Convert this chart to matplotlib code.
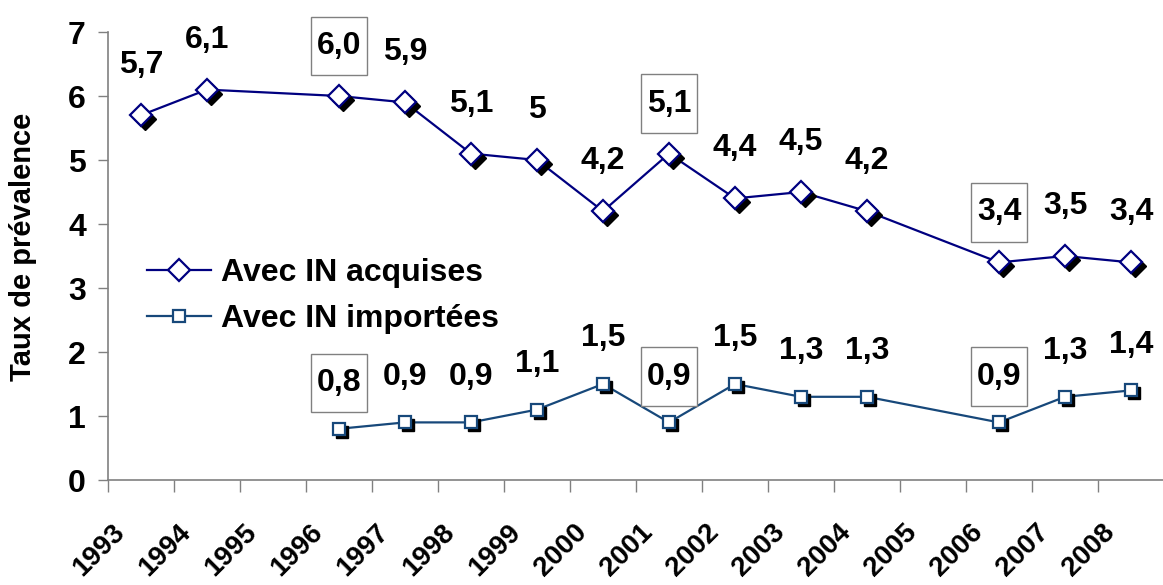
"""
Taux de prévalence, IN acquises / importées, 1993-2008
"""
import matplotlib
matplotlib.use('Agg')
import matplotlib.pyplot as plt
from matplotlib.path import Path
from matplotlib.transforms import ScaledTranslation

# categories on the x axis
years = [1993, 1994, 1995, 1996, 1997, 1998, 1999, 2000,
         2001, 2002, 2003, 2004, 2005, 2006, 2007, 2008]

# series 1 : avec IN acquises
acq_years = [1993, 1994, 1996, 1997, 1998, 1999, 2000, 2001,
             2002, 2003, 2004, 2006, 2007, 2008]
acq_values = [5.7, 6.1, 6.0, 5.9, 5.1, 5.0, 4.2, 5.1, 4.4, 4.5, 4.2, 3.4, 3.5, 3.4]
acq_text = ['5,7', '6,1', '6,0', '5,9', '5,1', '5', '4,2', '5,1',
            '4,4', '4,5', '4,2', '3,4', '3,5', '3,4']
acq_boxed = [1996, 2001, 2006]

# series 2 : avec IN importées
imp_years = [1996, 1997, 1998, 1999, 2000, 2001, 2002, 2003, 2004, 2006, 2007, 2008]
imp_values = [0.8, 0.9, 0.9, 1.1, 1.5, 0.9, 1.5, 1.3, 1.3, 0.9, 1.3, 1.4]
imp_text = ['0,8', '0,9', '0,9', '1,1', '1,5', '0,9', '1,5', '1,3',
            '1,3', '0,9', '1,3', '1,4']
imp_boxed = [1996, 2001, 2006]

yticks = [0, 1, 2, 3, 4, 5, 6, 7]

plt.rcParams['font.family'] = ['Liberation Sans', 'DejaVu Sans']
plt.rcParams['font.weight'] = 'bold'

navy = '#000080'
blue = '#17487A'
grey = '#808080'


def tall_box(x0, y0, width, height, mutation_scale):
    # label box: a bit of room left/right, a lot above/below
    px, py = 0.17 * mutation_scale, 0.45 * mutation_scale
    x0, y0 = x0 - px, y0 - py
    x1, y1 = x0 + width + 2 * px, y0 + height + 2 * py
    return Path([(x0, y0), (x1, y0), (x1, y1), (x0, y1), (x0, y0)], closed=True)


fig = plt.figure(figsize=(11.63, 5.85), dpi=100)
ax = fig.add_axes([108 / 1163, 105 / 585, 1056 / 1163, 448 / 585])

shadow = ax.transData + ScaledTranslation(0.04, -0.04, fig.dpi_scale_trans)
shadow_small = ax.transData + ScaledTranslation(0.03, -0.03, fig.dpi_scale_trans)

xa = [years.index(y) for y in acq_years]
xi = [years.index(y) for y in imp_years]

# lines
ax.plot(xa, acq_values, color=navy, lw=1.6, zorder=2)
ax.plot(xi, imp_values, color=blue, lw=1.6, zorder=2)

# marker shadows
ax.plot(xa, acq_values, ls='none', marker='D', ms=11.5, color='black',
        transform=shadow, zorder=3, clip_on=False)
ax.plot(xi, imp_values, ls='none', marker='s', ms=8, color='black',
        transform=shadow_small, zorder=3, clip_on=False)

# markers
ax.plot(xa, acq_values, ls='none', marker='D', ms=11.5, mfc='white',
        mec=navy, mew=1.6, zorder=4, clip_on=False)
ax.plot(xi, imp_values, ls='none', marker='s', ms=8, mfc='white',
        mec=blue, mew=1.6, zorder=4, clip_on=False)

# data labels
for x, y, v, yr in zip(xa, acq_values, acq_text, acq_years):
    box = dict(boxstyle=tall_box, fc='white', ec=grey, lw=1) if yr in acq_boxed else None
    ax.annotate(v, (x, y), xytext=(0, 36), textcoords='offset points',
                ha='center', va='center', fontsize=23, fontweight='bold',
                bbox=box, annotation_clip=False)
for x, y, v, yr in zip(xi, imp_values, imp_text, imp_years):
    box = dict(boxstyle=tall_box, fc='white', ec=grey, lw=1) if yr in imp_boxed else None
    ax.annotate(v, (x, y), xytext=(0, 33), textcoords='offset points',
                ha='center', va='center', fontsize=23, fontweight='bold',
                bbox=box, annotation_clip=False)

# legend (no shadows on its markers)
h1, = ax.plot([], [], color=navy, lw=1.6, marker='D', ms=11.5, mfc='white',
              mec=navy, mew=1.6)
h2, = ax.plot([], [], color=blue, lw=1.6, marker='s', ms=8, mfc='white',
              mec=blue, mew=1.6)
ax.legend([h1, h2], ['Avec IN acquises', 'Avec IN importées'],
          loc='center left', bbox_to_anchor=(0.037, 0.411), frameon=False,
          handlelength=2.0, handletextpad=0.3, labelspacing=0.5,
          borderpad=0, borderaxespad=0, prop={'weight': 'bold', 'size': 23})

# axes
ax.set_xlim(-0.5, len(years) - 0.5)
ax.set_ylim(0, 7)
ax.set_yticks(yticks)
ax.set_yticklabels([str(t) for t in yticks], fontsize=23, fontweight='bold')
ax.tick_params(axis='y', length=7, width=1, color=grey, pad=9)

ax.set_xticks([i - 0.5 for i in range(len(years) + 1)])
ax.set_xticklabels([])
ax.set_xticks(range(len(years)), minor=True)
ax.set_xticklabels([str(y) for y in years], minor=True, rotation=45,
                   ha='right', va='center', rotation_mode='anchor',
                   fontsize=20, fontweight='bold')
ax.tick_params(axis='x', which='major', length=8.6, width=1, color=grey)
ax.tick_params(axis='x', which='minor', length=0, pad=35)
lbl_shift = ScaledTranslation(-0.20, 0, fig.dpi_scale_trans)
for lbl in ax.get_xticklabels(minor=True):
    lbl.set_transform(lbl.get_transform() + lbl_shift)

for side in ['top', 'right']:
    ax.spines[side].set_visible(False)
for side in ['left', 'bottom']:
    ax.spines[side].set_color(grey)
    ax.spines[side].set_linewidth(1.2)

ax.set_ylabel('Taux de prévalence', fontsize=21, fontweight='bold')
ax.yaxis.set_label_coords(-0.067, 0.52)

plt.savefig('out.png', dpi=100)
plt.close()
